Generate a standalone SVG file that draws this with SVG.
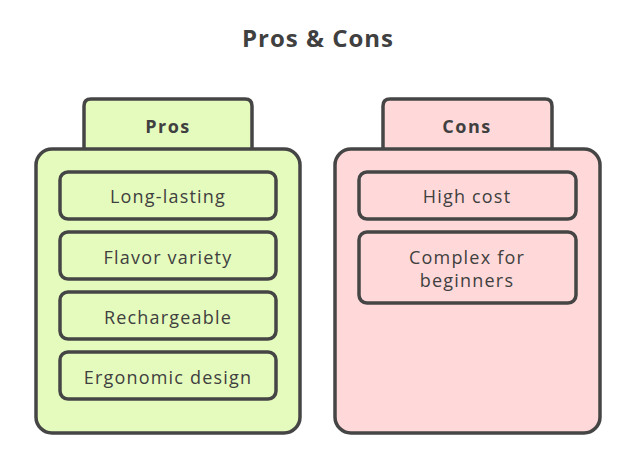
<svg xmlns="http://www.w3.org/2000/svg" width="635" height="454" viewBox="0 0 635 454">
<style>
.box{stroke:#454545;stroke-width:3.5;stroke-linejoin:round}
.pro{fill:#e5fbbd}
.con{fill:#ffd9d9}
.t{font-family:"Open Sans","Liberation Sans",sans-serif;fill:#404040;text-anchor:middle;dominant-baseline:central}
.h{font-weight:bold;font-size:18px;letter-spacing:1.5px}
.i{font-size:18px;letter-spacing:1.2px}
</style>
<rect width="635" height="454" fill="#ffffff"/>
<text class="t" x="318" y="37" style="font-size:24px;font-weight:bold;letter-spacing:1px">Pros &amp; Cons</text>
<g id="pros">
<path class="box pro" d="M84,150 L84,106 Q84,99 91,99 L245,99 Q252,99 252,106 L252,150"/>
<text class="t h" x="168" y="126">Pros</text>
<rect class="box pro" x="36" y="149" width="264" height="284" rx="16"/>
</g>
<g id="cons">
<path class="box con" d="M383,150 L383,106 Q383,99 390,99 L545,99 Q552,99 552,106 L552,150"/>
<text class="t h" x="467" y="126">Cons</text>
<rect class="box con" x="335" y="149" width="265" height="284" rx="16"/>
</g>
<g id="pro1"><rect class="box pro" x="60" y="172" width="216" height="47" rx="8"/><text class="t i" x="168" y="196">Long-lasting</text></g>
<g id="pro2"><rect class="box pro" x="60" y="232" width="216" height="47" rx="8"/><text class="t i" x="168" y="257">Flavor variety</text></g>
<g id="pro3"><rect class="box pro" x="60" y="292" width="216" height="47" rx="8"/><text class="t i" x="168" y="317">Rechargeable</text></g>
<g id="pro4"><rect class="box pro" x="60" y="352" width="216" height="47" rx="8"/><text class="t i" x="168" y="377">Ergonomic design</text></g>
<g id="con1"><rect class="box con" x="359" y="172" width="217" height="47" rx="8"/><text class="t i" x="467" y="196">High cost</text></g>
<g id="con2"><rect class="box con" x="359" y="232" width="217" height="71" rx="8"/><text class="t i" x="467" y="257">Complex for</text><text class="t i" x="467" y="280">beginners</text></g>
<g id="connectors"></g>
</svg>
